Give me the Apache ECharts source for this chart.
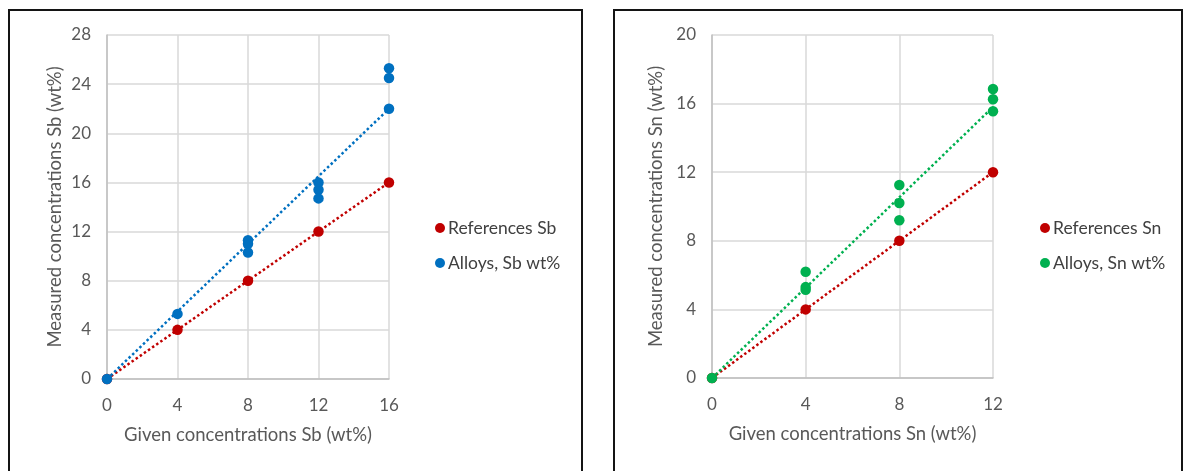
<!DOCTYPE html>
<html>
<head>
<meta charset="utf-8">
<script src="https://cdn.jsdelivr.net/npm/echarts@6/dist/echarts.min.js"></script>
<style>
  html, body { margin: 0; padding: 0; background: #fff; overflow: hidden; }
  #wrap { position: relative; width: 1184px; height: 471px; }
  .frame { position: absolute; border: 2px solid #141414; box-sizing: border-box; }
  #frameSb { left: 8px; top: 9px; width: 575px; height: 480px; }
  #frameSn { left: 613px; top: 9px; width: 570px; height: 480px; }
  #chart { position: absolute; left: 0; top: 0; width: 1184px; height: 471px; }
</style>
</head>
<body>
<div id="wrap">
  <div class="frame" id="frameSb"></div>
  <div class="frame" id="frameSn"></div>
  <div id="chart"></div>
</div>
<script>
// Antimony (Sb): given vs measured concentrations, wt%
const refSb = [[0, 0], [4, 4], [8, 8], [12, 12], [16, 16]];
const alloySb = [
  [0, 0], [4, 5.3],
  [8, 11.3], [8, 11.0], [8, 10.3],
  [12, 16.0], [12, 15.4], [12, 14.7],
  [16, 25.3], [16, 24.5], [16, 22.0]
];
const trendRefSb = [[0, 0], [16, 16]];
const trendAlloySb = [[0, 0], [16, 22.0]];

// Tin (Sn): given vs measured concentrations, wt%
const refSn = [[0, 0], [4, 4], [8, 8], [12, 12]];
const alloySn = [
  [0, 0],
  [4, 6.2], [4, 5.3], [4, 5.15],
  [8, 11.25], [8, 10.2], [8, 9.2],
  [12, 16.85], [12, 16.25], [12, 15.55]
];
const trendRefSn = [[0, 0], [12, 12]];
const trendAlloySn = [[0, 0], [12, 15.8]];

const namesSb = ['References Sb', 'Alloys, Sb wt%'];
const namesSn = ['References Sn', 'Alloys, Sn wt%'];
const axisTitles = {
  xSb: 'Given concentrations Sb (wt%)',
  ySb: 'Measured concentrations Sb (wt%)',
  xSn: 'Given concentrations Sn (wt%)',
  ySn: 'Measured concentrations Sn (wt%)'
};

const RED = '#c00000', BLUE = '#0070c0', GREEN = '#00b050';
const FONT = 'Lato, "Open Sans", sans-serif';
const TEXT = '#595959';

function xAxis(gridIndex, max, name) {
  return {
    type: 'value', gridIndex, min: 0, max, interval: 4,
    name, nameLocation: 'middle', nameGap: 47,
    nameTextStyle: { color: TEXT, fontSize: 18.5, fontFamily: FONT },
    axisLine: { show: true, lineStyle: { color: '#bfbfbf', width: 1.5 } },
    axisTick: { show: false },
    axisLabel: { color: TEXT, fontSize: 17, fontFamily: FONT, margin: 18 },
    splitLine: { show: true, lineStyle: { color: '#d9d9d9', width: 1.5 } }
  };
}
function yAxis(gridIndex, max, name, gap) {
  return {
    type: 'value', gridIndex, min: 0, max, interval: 4,
    name, nameLocation: 'middle', nameGap: gap, nameRotate: 90,
    nameTextStyle: { color: TEXT, fontSize: 18.5, fontFamily: FONT },
    axisLine: { show: true, lineStyle: { color: '#bfbfbf', width: 1.5 } },
    axisTick: { show: false },
    axisLabel: { color: TEXT, fontSize: 17, fontFamily: FONT, margin: 16 },
    splitLine: { show: true, lineStyle: { color: '#d9d9d9', width: 1.5 } }
  };
}
function trend(idx, data, color) {
  return {
    type: 'line', xAxisIndex: idx, yAxisIndex: idx, data,
    showSymbol: false, silent: true, z: 2,
    lineStyle: { color, width: 2.5, type: 'dotted' }
  };
}
function points(idx, name, data, color) {
  return {
    type: 'scatter', name, xAxisIndex: idx, yAxisIndex: idx, data,
    symbol: 'circle', symbolSize: 10.5, z: 3,
    itemStyle: { color, opacity: 1 }
  };
}
function legend(left, names) {
  return {
    orient: 'vertical', left, top: 214, itemGap: 17,
    icon: 'circle', itemWidth: 10, itemHeight: 10,
    data: names,
    textStyle: { color: '#404040', fontSize: 17.5, fontFamily: FONT, padding: [0, 0, 0, -2] }
  };
}

const chart = echarts.init(document.getElementById('chart'), null, { renderer: 'canvas' });
chart.setOption({
  backgroundColor: 'transparent',
  animation: false,
  grid: [
    { left: 107, right: 795, top: 35, bottom: 92 },
    { left: 712, right: 191, top: 35, bottom: 93 }
  ],
  xAxis: [xAxis(0, 16, axisTitles.xSb), xAxis(1, 12, axisTitles.xSn)],
  yAxis: [yAxis(0, 28, axisTitles.ySb, 42), yAxis(1, 20, axisTitles.ySn, 46)],
  legend: [legend(430, namesSb), legend(1035, namesSn)],
  series: [
    trend(0, trendRefSb, RED),
    trend(0, trendAlloySb, BLUE),
    points(0, namesSb[0], refSb, RED),
    points(0, namesSb[1], alloySb, BLUE),
    trend(1, trendRefSn, RED),
    trend(1, trendAlloySn, GREEN),
    points(1, namesSn[0], refSn, RED),
    points(1, namesSn[1], alloySn, GREEN)
  ]
});
</script>
</body>
</html>
